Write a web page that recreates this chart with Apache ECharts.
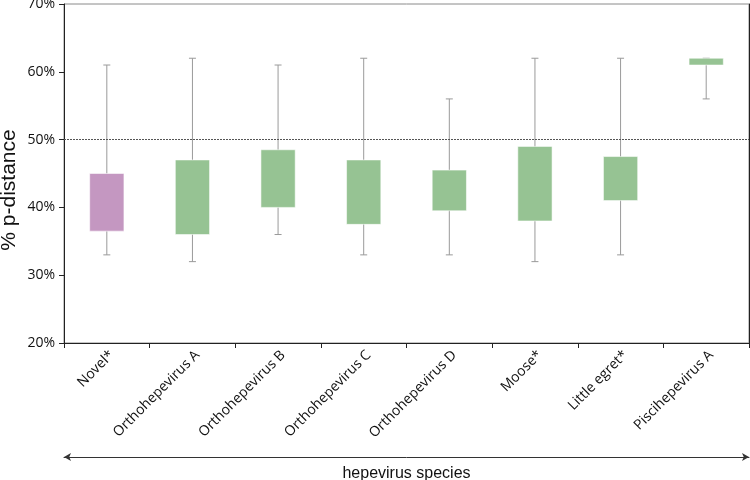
<!DOCTYPE html>
<html><head><meta charset="utf-8">
<script src="https://cdn.jsdelivr.net/npm/echarts@6/dist/echarts.min.js"></script>
<style>html,body{margin:0;padding:0;background:#fff}#c{width:750px;height:480px}</style>
</head><body><div id="c"></div>
<script>
const categories = ['Novel*','Orthohepevirus A','Orthohepevirus B','Orthohepevirus C','Orthohepevirus D','Moose*','Little egret*','Piscihepevirus A'];
const whiskerMin = [33, 32, 36, 33, 33, 32, 33, 56];
const boxLow     = [36.5, 36, 40, 37.5, 39.5, 38, 41, 61];
const boxHigh    = [45, 47, 48.5, 47, 45.5, 49, 47.5, 62];
const whiskerMax = [61, 62, 61, 62, 56, 62, 62, 62];
const boxColors  = ['#c497c1','#96c393','#96c393','#96c393','#96c393','#96c393','#96c393','#96c393'];
const yTicks = [20, 30, 40, 50, 60, 70];
const threshold = 50;

const data = categories.map((c, i) => [i, whiskerMin[i], boxLow[i], boxHigh[i], whiskerMax[i]]);

const chart = echarts.init(document.getElementById('c'));
chart.setOption({
  animation: false,
  grid: { left: 64, right: 1, top: 4, bottom: 137, outerBoundsMode: 'none', containLabel: false,
          show: true, borderColor: '#8a8a8a', borderWidth: 1 },
  graphic: [{
    type: 'text', x: 9, y: 190, rotation: Math.PI / 2,
    style: { text: '% p-distance', font: '21px "Liberation Sans"', fill: '#111', align: 'center', verticalAlign: 'middle' }
  }],
  xAxis: [{
    type: 'category', data: categories, boundaryGap: true,
    axisLine: { lineStyle: { color: '#222', width: 1 } },
    axisTick: { show: true, alignWithLabel: false, length: 5, lineStyle: { color: '#222' } },
    axisLabel: { rotate: 45, fontFamily: 'Open Sans', fontSize: 14, color: '#111', margin: 5, interval: 0, verticalAlign: 'top' },
    splitLine: { show: false }
  }, {
    type: 'category', data: categories, position: 'bottom', offset: 114,
    axisLine: { show: true, symbol: ['arrow', 'arrow'], symbolSize: [6, 7], lineStyle: { color: '#333', width: 1 } },
    axisTick: { show: false }, axisLabel: { show: false },
    name: 'hepevirus species', nameLocation: 'middle', nameGap: 9,
    nameTextStyle: { fontFamily: 'Liberation Sans', fontSize: 16, color: '#111' }
  }],
  yAxis: [{
    type: 'value', min: 20, max: 70, interval: 10,
    axisLine: { show: true, lineStyle: { color: '#222' } },
    axisTick: { show: true, length: 5, lineStyle: { color: '#222' } },
    axisLabel: { formatter: v => yTicks.includes(v) ? v + '%' : '', fontFamily: 'Open Sans', fontSize: 14, color: '#111', margin: 9 },
    splitLine: { show: false }
  }, {
    type: 'value', min: 20, max: 70, interval: 10, position: 'right',
    axisLine: { show: true, lineStyle: { color: '#222' } },
    axisTick: { show: false }, axisLabel: { show: false }, splitLine: { show: false }
  }],
  series: [{
    type: 'custom',
    data: data,
    encode: { x: 0, y: [1, 2, 3, 4] },
    renderItem: function (params, api) {
      const i = api.value(0);
      const pMin = api.coord([i, api.value(1)]);
      const pLow = api.coord([i, api.value(2)]);
      const pHigh = api.coord([i, api.value(3)]);
      const pMax = api.coord([i, api.value(4)]);
      const bw = api.size([1, 0])[0] * 0.4;
      const cap = 3.5;
      const x = pMin[0];
      const ws = { stroke: '#9a9a9a', lineWidth: 1 };
      return {
        type: 'group',
        children: [
          { type: 'line', shape: { x1: x, y1: pMax[1], x2: x, y2: pMin[1] }, style: ws },
          { type: 'line', shape: { x1: x - cap, y1: pMax[1], x2: x + cap, y2: pMax[1] }, style: ws },
          { type: 'line', shape: { x1: x - cap, y1: pMin[1], x2: x + cap, y2: pMin[1] }, style: ws },
          { type: 'rect', shape: { x: x - bw / 2, y: pHigh[1], width: bw, height: pLow[1] - pHigh[1] },
            style: { fill: boxColors[params.dataIndex], stroke: 'rgba(255,255,255,0.55)', lineWidth: 1 } }
        ]
      };
    },
    markLine: {
      silent: true, symbol: 'none', label: { show: false },
      lineStyle: { type: [2, 1], color: '#555', width: 1 },
      data: [{ yAxis: threshold }]
    }
  }]
});
</script>
</body></html>
